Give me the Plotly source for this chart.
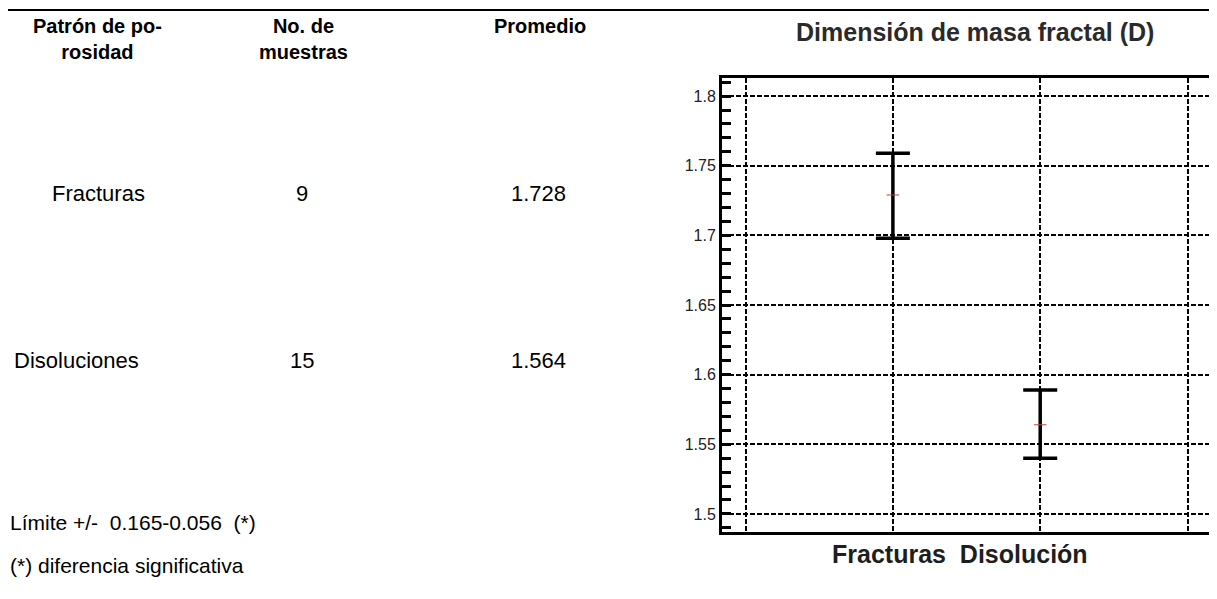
import plotly.graph_objects as go

W, H = 1217, 599
OFF = 8  # default page margin of the html body

# ---- data ----
table_headers = ["Patrón de po-<br>rosidad", "No. de<br>muestras", "Promedio"]
patterns = ["Fracturas", "Disoluciones"]
n_samples = [9, 15]
means = [1.728, 1.564]
limit_note = "Límite +/-&nbsp;&nbsp;0.165-0.056&nbsp;&nbsp;(*)"
sig_note = "(*) diferencia significativa"

chart_title = "Dimensión de masa fractal (D)"
chart_cats = ["Fracturas", "Disolución"]
chart_x = [1, 2]
chart_means = [1.729, 1.564]
ci_upper = [1.759, 1.589]
ci_lower = [1.698, 1.540]
y_ticks = [1.5, 1.55, 1.6, 1.65, 1.7, 1.75, 1.8]
y_tick_text = ["1.5", "1.55", "1.6", "1.65", "1.7", "1.75", "1.8"]

FW, FH = W - OFF, H - OFF


def px(x):
    return (x - OFF) / FW


def py(y):
    return 1 - (y - OFF) / FH


FONT = "Liberation Sans, Arial, sans-serif"

fig = go.Figure()
fig.add_trace(go.Scatter(
    x=chart_x, y=chart_means, mode="markers",
    marker=dict(symbol="line-ew-open", size=9, color="#b44", line=dict(color="#b44", width=1)),
    error_y=dict(type="data", symmetric=False,
                 array=[u - m for u, m in zip(ci_upper, chart_means)],
                 arrayminus=[m - l for m, l in zip(chart_means, ci_lower)],
                 color="black", thickness=3.5, width=17),
    showlegend=False, hoverinfo="skip"))

plot_left, plot_top, plot_bottom = 722, 78, 532
fig.update_layout(
    width=FW, height=FH, margin=dict(l=0, r=0, t=0, b=0),
    paper_bgcolor="white", plot_bgcolor="white",
    font=dict(family=FONT, color="#111"),
    xaxis=dict(domain=[px(plot_left), 1], range=[-0.16, 3.2],
               tickvals=[0, 1, 2, 3], showticklabels=False, ticks="",
               showgrid=True, gridcolor="black", gridwidth=2, griddash="5px,2px",
               showline=True, linecolor="black", linewidth=3, mirror=True,
               zeroline=False),
    yaxis=dict(domain=[py(plot_bottom), py(plot_top)], range=[1.487, 1.813],
               tickvals=y_ticks, ticktext=y_tick_text,
               ticks="inside", ticklen=9, tickwidth=3, tickcolor="black",
               minor=dict(dtick=0.01, tick0=1.5, ticks="inside", ticklen=9, tickwidth=3,
                          tickcolor="black", showgrid=False),
               tickfont=dict(size=16, color="#222"),
               showgrid=True, gridcolor="black", gridwidth=2, griddash="5px,2px",
               showline=True, linecolor="black", linewidth=3, mirror=False,
               zeroline=False),
)

ann = []
hdr_x = [97, 303, 540]
for t, x in zip(table_headers, hdr_x):
    ann.append(dict(text="<b>" + t + "</b>", x=px(x), y=py(14), xanchor="center", yanchor="top",
                    font=dict(size=20, color="black"), align="center", borderpad=0))
row_y = [193, 360]
pat_x = [98, 76]
for i in range(2):
    ann.append(dict(text=patterns[i], x=px(pat_x[i]), y=py(row_y[i]), xanchor="center", yanchor="middle",
                    font=dict(size=22, color="black")))
    ann.append(dict(text=str(n_samples[i]), x=px(302), y=py(row_y[i]), xanchor="center", yanchor="middle",
                    font=dict(size=22, color="black")))
    ann.append(dict(text=f"{means[i]:.3f}", x=px(538), y=py(row_y[i]), xanchor="center", yanchor="middle",
                    font=dict(size=22, color="black")))
ann.append(dict(text=limit_note, x=px(8), y=py(522), xanchor="left", yanchor="middle",
                font=dict(size=21, color="black")))
ann.append(dict(text=sig_note, x=px(8), y=py(565), xanchor="left", yanchor="middle",
                font=dict(size=21, color="black")))
ann.append(dict(text="<b>" + chart_title + "</b>", x=px(975), y=py(32), xanchor="center", yanchor="middle",
                font=dict(size=25, color="#2a2a2a")))
ann.append(dict(text="<b>" + chart_cats[0] + "&nbsp;&nbsp;" + chart_cats[1] + "</b>", x=px(960), y=py(554),
                xanchor="center", yanchor="middle", font=dict(size=25, color="#1e1e1e")))
for a in ann:
    a.update(xref="paper", yref="paper", showarrow=False)
fig.update_layout(annotations=ann)

fig.add_shape(type="line", xref="paper", yref="paper", x0=px(5), x1=1, y0=py(10), y1=py(10),
              line=dict(color="black", width=2))

fig.write_html("out.html")
